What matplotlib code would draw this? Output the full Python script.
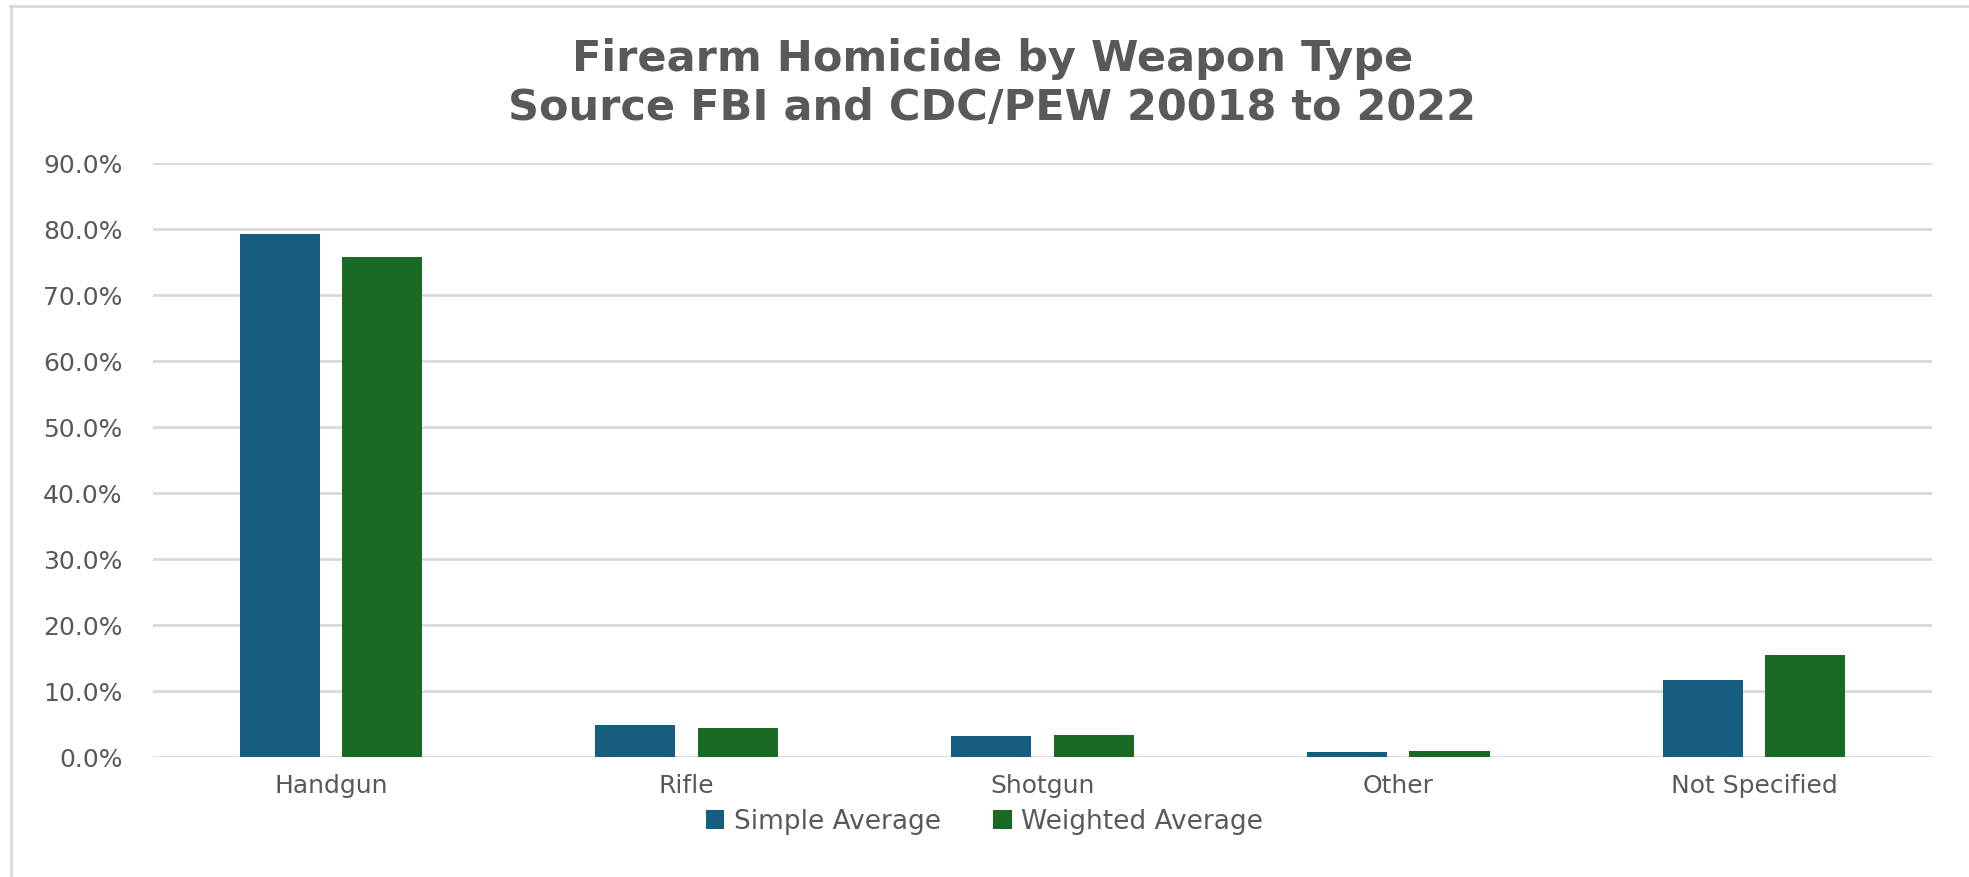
import matplotlib.pyplot as plt
import numpy as np
from matplotlib.ticker import PercentFormatter
from matplotlib.lines import Line2D

categories = ['Handgun', 'Rifle', 'Shotgun', 'Other', 'Not Specified']
simple_avg = [0.793, 0.048, 0.032, 0.007, 0.116]
weighted_avg = [0.758, 0.044, 0.034, 0.009, 0.154]
yticks = [0.0, 0.1, 0.2, 0.3, 0.4, 0.5, 0.6, 0.7, 0.8, 0.9]

blue = '#165E80'
green = '#1B6A24'
grey_text = '#595959'
grid_col = '#D9D9D9'

fig = plt.figure(figsize=(19.69, 8.77), dpi=100)
ax = fig.add_axes([0.0777, 0.1368, 0.9035, 0.6773])

x = np.arange(len(categories))
w = 0.225
off = 0.144
ax.bar(x - off, simple_avg, w, color=blue, label='Simple Average', zorder=3)
ax.bar(x + off, weighted_avg, w, color=green, label='Weighted Average', zorder=3)

ax.set_xlim(-0.5, len(categories) - 0.5)
ax.set_ylim(0, 0.9)
ax.set_yticks(yticks)
ax.yaxis.set_major_formatter(PercentFormatter(1.0, decimals=1))
ax.set_xticks(x)
ax.set_xticklabels(categories)
ax.grid(axis='y', color=grid_col, linewidth=2, zorder=0)
ax.yaxis.set_tick_params(length=0, labelsize=18, labelcolor=grey_text, pad=22)
ax.xaxis.set_tick_params(length=0, labelsize=18, labelcolor=grey_text, pad=12)
for s in ax.spines.values():
    s.set_visible(False)

fig.text(0.504, 0.905, 'Firearm Homicide by Weapon Type\nSource FBI and CDC/PEW 20018 to 2022',
         ha='center', va='center', fontsize=31, fontweight='bold', color=grey_text,
         linespacing=1.22)

fig.legend(loc='center', bbox_to_anchor=(0.5, 0.063), ncol=2, frameon=False,
           fontsize=19, labelcolor=grey_text, handlelength=0.7, handleheight=0.7,
           handletextpad=0.35, columnspacing=2.0)

# outer border (top and left only visible)
fig.add_artist(Line2D([0.005, 1.0], [0.993, 0.993], transform=fig.transFigure,
                      color=grid_col, linewidth=2))
fig.add_artist(Line2D([0.0055, 0.0055], [0.0, 0.993], transform=fig.transFigure,
                      color=grid_col, linewidth=2))

plt.savefig('out.png', dpi=100)
